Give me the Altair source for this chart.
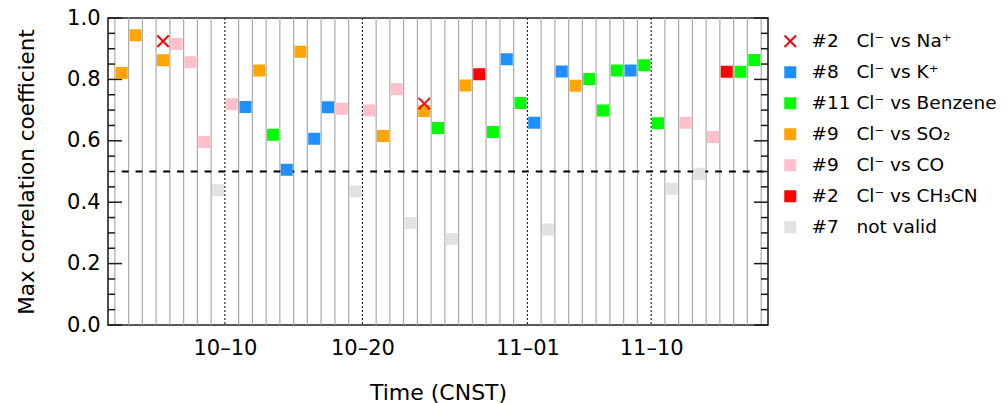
import altair as alt
import pandas as pd

# ---------------- data: daily max correlation of Cl- with tracers ----------------
na_dates = ["10-05", "10-24"]
na_vals = [0.924, 0.721]

k_dates = ["10-11", "10-14", "10-16", "10-17", "10-30", "11-01", "11-03", "11-08"]
k_vals = [0.710, 0.506, 0.607, 0.709, 0.866, 0.659, 0.826, 0.829]

benz_dates = ["10-13", "10-25", "10-29", "10-31", "11-05", "11-06", "11-07",
              "11-09", "11-10", "11-16", "11-17"]
benz_vals = [0.620, 0.642, 0.629, 0.723, 0.801, 0.699, 0.829,
             0.846, 0.657, 0.825, 0.863]

so2_dates = ["10-02", "10-03", "10-05", "10-12", "10-15", "10-21", "10-24", "10-27", "11-04"]
so2_vals = [0.821, 0.944, 0.862, 0.829, 0.890, 0.616, 0.697, 0.780, 0.779]

co_dates = ["10-06", "10-07", "10-08", "10-10", "10-18", "10-20", "10-22", "11-12", "11-14"]
co_vals = [0.915, 0.856, 0.596, 0.719, 0.704, 0.699, 0.768, 0.659, 0.612]

ch3cn_dates = ["10-28", "11-15"]
ch3cn_vals = [0.817, 0.825]

invalid_dates = ["10-09", "10-19", "10-23", "10-26", "11-02", "11-11", "11-13"]
invalid_vals = [0.439, 0.435, 0.332, 0.280, 0.311, 0.444, 0.493]

series_names = ["Cl⁻ vs Na⁺", "Cl⁻ vs K⁺", "Cl⁻ vs Benzene", "Cl⁻ vs SO₂",
                "Cl⁻ vs CO", "Cl⁻ vs CH₃CN", "not valid"]
series_colors = ["#ff0000", "#1e90ff", "#00ff00", "#ffa500", "#ffc0cb", "#ff0000", "#e2e2e2"]
cross_path = "M-1.15,-1.15L1.15,1.15M-1.15,1.15L1.15,-1.15"
series_shapes = [cross_path, "square", "square", "square", "square", "square", "square"]

tick_dates = ["10-10", "10-20", "11-01", "11-10"]
range_start, range_end = "10-01", "11-18"   # axis spans noon to noon
threshold = 0.5

FONT = "DejaVu Sans"
NBSP = "\u00a0"


def day_index(md):
    """Days elapsed since 1 October, midnight."""
    return (pd.Timestamp("2000-" + md) - pd.Timestamp("2000-10-01")).days


def legend_label(n, name):
    tag = f"#{n}"
    return tag + NBSP * (1 if len(tag) > 2 else 3) + name


all_series = [
    (na_dates, na_vals), (k_dates, k_vals), (benz_dates, benz_vals),
    (so2_dates, so2_vals), (co_dates, co_vals), (ch3cn_dates, ch3cn_vals),
    (invalid_dates, invalid_vals),
]
labels = [legend_label(len(d), nm) for (d, _), nm in zip(all_series, series_names)]

rows = []
# squares first, crosses last so they sit on top
order = list(range(1, len(all_series))) + [0]
for i in order:
    dates, vals = all_series[i]
    for d, v in zip(dates, vals):
        rows.append({"t": day_index(d) + 0.5, "r": v, "series": labels[i]})
points = pd.DataFrame(rows)

W, H = 660, 307
x_lo = day_index(range_start) + 0.5
x_hi = day_index(range_end) + 0.5
px_per_day = W / (x_hi - x_lo)
tick_idx = [day_index(d) for d in tick_dates]
tick_text = [d.replace("-", "–") for d in tick_dates]

day_lines = pd.DataFrame({"t": [i for i in range(day_index("10-02"), day_index(range_end) + 1)
                                if i not in tick_idx]})
month_lines = pd.DataFrame({"t": tick_idx})
thresh_df = pd.DataFrame({"r": [threshold], "t": [points["t"].min()], "t2": [x_hi]})

# inward tick marks on both vertical frame edges: long every 0.2, short every 0.05
y_ticks = [round(i * 0.05, 2) for i in range(21)]
tick_rows = []
for i, v in enumerate(y_ticks):
    length = (14 if i % 4 == 0 else 7) / px_per_day
    tick_rows.append({"r": v, "t": x_lo, "t2": x_lo + length})
    tick_rows.append({"r": v, "t": x_hi, "t2": x_hi - length})
tick_df = pd.DataFrame(tick_rows)

xscale = alt.Scale(domain=[x_lo, x_hi], nice=False, zero=False)
yscale = alt.Scale(domain=[0, 1], nice=False)

label_expr = "[" + ",".join(f"'{t}'" for t in tick_text) + "][indexof([" + \
    ",".join(str(i) for i in tick_idx) + "], datum.value)]"

x_axis = alt.Axis(values=tick_idx, labelExpr=label_expr, ticks=False, tickSize=0,
                  domain=False, grid=False, labelFont=FONT, labelFontSize=21,
                  labelColor="black", labelPadding=12, titleFont=FONT, titleFontSize=22,
                  titleFontWeight="normal", titleColor="black", titlePadding=24)
y_axis = alt.Axis(values=[0, 0.2, 0.4, 0.6, 0.8, 1.0], format=".1f", ticks=False, tickSize=0,
                  domain=False, grid=False, labelFont=FONT, labelFontSize=21,
                  labelColor="black", labelPadding=8, titleFont=FONT, titleFontSize=21.5,
                  titleFontWeight="normal", titleColor="black", titlePadding=28)

X_TITLE = "Time (CNST)"
Y_TITLE = "Max correlation coefficient"


def xenc(field="t"):
    return alt.X(f"{field}:Q", scale=xscale, axis=x_axis, title=X_TITLE)


def yenc(field="r"):
    return alt.Y(f"{field}:Q", scale=yscale, axis=y_axis, title=Y_TITLE)


grid = alt.Chart(day_lines).mark_rule(color="#ababab", strokeWidth=1.2).encode(x=xenc())
months = alt.Chart(month_lines).mark_rule(color="black", strokeWidth=1, strokeDash=[2, 2]).encode(
    x=xenc())
thresh = alt.Chart(thresh_df).mark_rule(color="black", strokeWidth=2, strokeDash=[6.9, 6.9]).encode(
    x=xenc(), x2="t2:Q", y=yenc())
ticks = alt.Chart(tick_df).mark_rule(color="#1a1a1a", strokeWidth=1.5).encode(
    x=xenc(), x2="t2:Q", y=yenc())

legend = alt.Legend(title=None, orient="none", legendX=673, legendY=14, padding=0,
                    labelFont=FONT, labelFontSize=18.5, labelColor="black", labelLimit=400,
                    labelOffset=12, rowPadding=12, symbolSize=100, symbolStrokeWidth=2)

marks = alt.Chart(points).mark_point(size=100, strokeWidth=2, opacity=1).encode(
    x=xenc(),
    y=yenc(),
    fill=alt.Fill("series:N", scale=alt.Scale(domain=labels, range=series_colors), legend=legend),
    stroke=alt.Stroke("series:N", scale=alt.Scale(domain=labels, range=series_colors), legend=legend),
    shape=alt.Shape("series:N", scale=alt.Scale(domain=labels, range=series_shapes), legend=legend),
)

chart = alt.layer(grid, months, thresh, ticks, marks).properties(
    width=W, height=H,
    autosize=alt.AutoSizeParams(type="none"),
    padding={"left": 108, "top": 18, "right": 1008 - 108 - W, "bottom": 403 - 18 - H},
    background="white",
).configure_view(stroke="#222222", strokeWidth=1.6)

chart.save("out.html", embed_options={"renderer": "svg", "actions": False})
